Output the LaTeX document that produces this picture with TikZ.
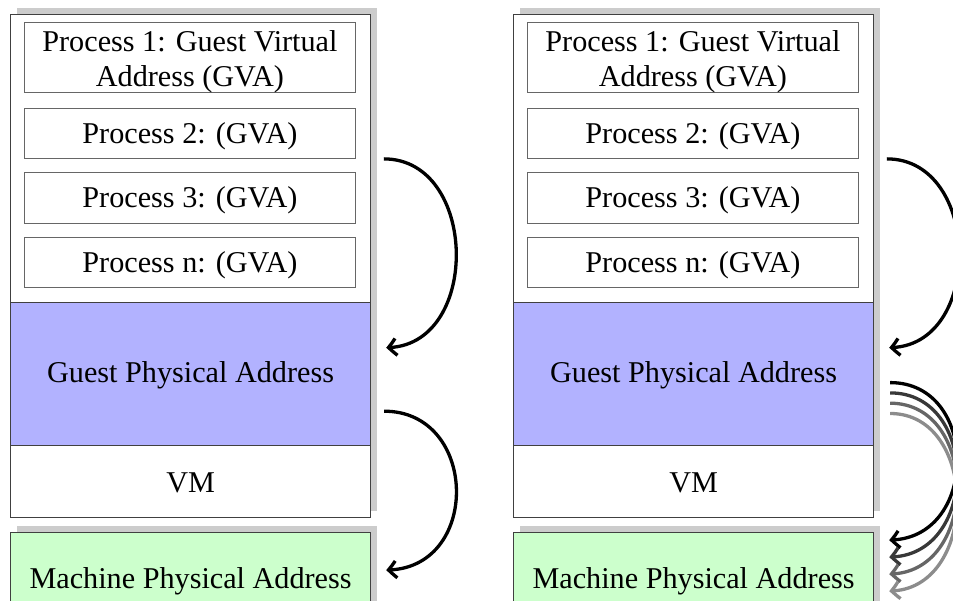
\documentclass[tikz,border=0pt]{standalone}
\usepackage{fontspec}
\setmainfont{Liberation Serif}
\usetikzlibrary{arrows.meta,bending,shadows}
\begin{document}
\begin{tikzpicture}[x=1pt,y=-1pt,
  font=\fontsize{30.2}{35}\selectfont,
  shadowed/.style={drop shadow={shadow xshift=6.5pt,shadow yshift=6.5pt,fill=black!20,opacity=1}},
  outer/.style={draw=black!75,line width=1.2pt,minimum width=360pt,inner sep=0pt,anchor=north west,text height=20pt,text depth=0pt},
  proc/.style={draw=black!60,line width=0.9pt,minimum width=331pt,inner sep=0pt,anchor=north west,align=center,text height=20pt,text depth=0pt},
  arr/.style={line width=3.3pt,-{Straight Barb[length=8pt,width=17pt,bend]}},
]
\clip (0,0) rectangle (953,601);
\foreach \s/\dx in {L/0,R/503}{
  \node[outer,shadowed,fill=white,minimum height=503pt] (vm\s) at (10+\dx,14) {};
  \node[outer,fill=blue!30,minimum height=143pt,text height=16pt] (gpa\s) at (10+\dx,302) {Guest Physical Address};
  \node[outer,minimum height=72pt,text height=22pt] (vmb\s) at (10+\dx,445) {VM};
  \node[outer,shadowed,fill=green!20,minimum height=92pt] (mpa\s) at (10+\dx,532) {Machine Physical Address};
  \node[proc,minimum height=70pt,text height=58pt] (pa\s) at (24+\dx,22) {Process 1: Guest Virtual\\Address (GVA)};
  \node[proc,minimum height=50pt] (pb\s) at (24+\dx,108) {Process 2: (GVA)};
  \node[proc,minimum height=51pt] (pc\s) at (24+\dx,172) {Process 3: (GVA)};
  \node[proc,minimum height=50pt] (pn\s) at (24+\dx,237) {Process n: (GVA)};
  \draw[arr] ([xshift=28pt]pb\s.south east) .. controls +(95,0) and +(95,0) .. ([xshift=15pt,yshift=26.5pt]gpa\s.east);
}
\draw[arr] ([xshift=13pt,yshift=35pt]gpaL.south east) .. controls +(95,0) and +(95,0) .. ([xshift=15pt,yshift=-38pt]mpaL.north east);
\foreach \i/\c in {3/black!45,2/black!60,1/black!78,0/black}{
  \draw[arr,draw=\c] ([xshift=16pt,yshift={-8.5pt-10.3pt*\i}]gpaR.east) .. controls +(90,0) and +(90,0) .. ([xshift=15pt,yshift={-8pt-17pt*\i}]mpaR.north east);
}
\end{tikzpicture}
\end{document}
